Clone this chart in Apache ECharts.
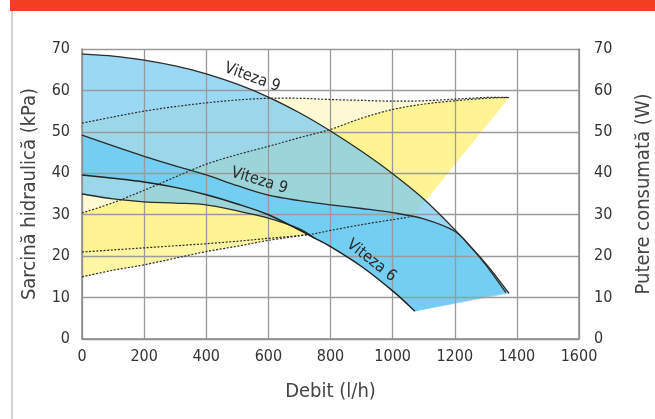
<!DOCTYPE html>
<html><head><meta charset="utf-8">
<script src="https://cdn.jsdelivr.net/npm/echarts@6/dist/echarts.min.js"></script>
<style>html,body{margin:0;padding:0;background:#fff}#c{width:655px;height:419px}</style>
</head><body><div id="c"></div>
<script>
const FONT = "'Liberation Sans Narrow','DejaVu Sans Condensed',Roboto,sans-serif";

// ---- Pressure curves (left axis, kPa) vs flow (l/h)
const v9MaxFlow = [0,100,200,300,400,500,600,700,800,900,1000,1100,1200,1300,1375];
const v9MaxHead = [68.8,68.3,67.3,65.9,64.0,61.5,58.4,54.6,50.2,45.3,39.9,33.8,26.4,18.2,11.0];

const v9LowFlow = [0,100,200,300,400,500,600,700,800,900,1000,1100,1200,1250,1300,1365];
const v9LowHead = [49.2,46.6,44.1,41.8,39.6,37.0,34.7,33.4,32.4,31.5,30.5,29.0,26.0,22.3,17.9,11.2];

const v6Flow = [0,100,200,300,400,500,600,700,750,800,900,1000,1072];
const v6Head = [39.6,38.8,37.9,36.6,34.8,32.6,30.0,26.3,24.3,22.3,17.5,11.6,6.7];

const v6MinFlow = [0,100,200,300,400,500,600,700,750];
const v6MinHead = [35.0,33.8,33.1,32.8,32.4,30.9,29.2,26.6,24.3];

// ---- Power curves (right axis, W)
const pMaxFlow = [0,100,200,300,400,500,600,700,800,900,1000,1100,1200,1300,1375];
const pMaxW    = [52.1,53.6,55.0,56.1,57.0,57.7,58.1,58.1,57.8,57.6,57.4,57.5,57.9,58.3,58.3];
const pHighFlow = [0,100,200,300,400,500,600,700,800,900,1000,1100,1200,1300,1375];
const pHighW    = [30.4,32.9,35.9,39.1,42.2,44.5,46.5,48.6,50.6,53.3,55.4,56.7,57.5,58.1,58.3];
const pMidFlow = [0,100,200,300,400,500,600,728,800,900,1000,1066];
const pMidW    = [21.0,21.5,22.0,22.5,23.0,23.6,24.3,25.2,26.2,27.6,28.8,29.6];
const pLowFlow = [0,100,200,300,400,500,600,728];
const pLowW    = [15.0,16.6,17.9,19.5,21.1,22.4,23.8,25.2];

// ---- Axis ticks
const xTicks = [0,200,400,600,800,1000,1200,1400,1600];
const yTicks = [0,10,20,30,40,50,60,70];

// ---- Curve labels
const labelText = ['Viteza 9','Viteza 9','Viteza 6'];
const labelFlow = [548, 571, 932];
const labelHead = [63.1, 38.2, 18.9];

function zip(xs, ys){ return xs.map((x,i)=>[x, ys[i]]); }
function rev(a){ return a.slice().reverse(); }

function catmull(p){
  let d='';
  for(let i=0;i<p.length-1;i++){
    const p0=p[i-1]||p[i], p1=p[i], p2=p[i+1], p3=p[i+2]||p[i+1];
    const c1x=p1[0]+(p2[0]-p0[0])/6, c1y=p1[1]+(p2[1]-p0[1])/6;
    const c2x=p2[0]-(p3[0]-p1[0])/6, c2y=p2[1]-(p3[1]-p1[1])/6;
    d+='C'+c1x+','+c1y+','+c2x+','+c2y+','+p2[0]+','+p2[1];
  }
  return d;
}
// segs: [{pts:[[x,y],...], smooth:true|false}]
function buildPath(segs, api, close){
  let d='', started=false;
  segs.forEach(s=>{
    const p = s.pts.map(v=>api.coord(v));
    if(!started){ d+='M'+p[0][0]+','+p[0][1]; started=true; }
    else d+='L'+p[0][0]+','+p[0][1];
    if(s.smooth) d+=catmull(p);
    else for(let i=1;i<p.length;i++) d+='L'+p[i][0]+','+p[i][1];
  });
  if(close) d+='Z';
  return d;
}
function region(segs, fill, z, yAxisIndex){
  return {type:'custom', silent:true, z:z, yAxisIndex:yAxisIndex||0, data:[[0,0]],
    renderItem:(params, api)=>({type:'path', shape:{pathData:buildPath(segs, api, true)},
      style:{fill:fill, stroke:null}})};
}
function curve(pts, style, z, yAxisIndex){
  return {type:'custom', silent:true, z:z, yAxisIndex:yAxisIndex||0, data:[[0,0]],
    renderItem:(params, api)=>({type:'path', shape:{pathData:buildPath([{pts:pts, smooth:true}], api, false)},
      style:Object.assign({fill:null}, style)})};
}

const v9Max = zip(v9MaxFlow, v9MaxHead);
const v9Low = zip(v9LowFlow, v9LowHead);
const v6 = zip(v6Flow, v6Head);
const v6Min = zip(v6MinFlow, v6MinHead);
const pMax = zip(pMaxFlow, pMaxW);
const pHigh = zip(pHighFlow, pHighW);
const pMid = zip(pMidFlow, pMidW);
const pLow = zip(pLowFlow, pLowW);
const v6Tail = v6.filter(p=>p[0]>=750);
const pMidTail = pMid.filter(p=>p[0]>=728);

const solid = {stroke:'#2b2b2b', lineWidth:1.3};
const dotted = {stroke:'#2b2b2b', lineWidth:1.2, lineDash:[2,1.6]};

const series = [
  region([{pts:pMax, smooth:true}, {pts:[pMax[pMax.length-1], pMid[pMid.length-1]], smooth:false}, {pts:rev(pMid), smooth:true}],
    'rgba(255,240,110,0.30)', 1, 1),
  region([{pts:pHigh, smooth:true}, {pts:[pHigh[pHigh.length-1], pMid[pMid.length-1]], smooth:false},
          {pts:rev(pMidTail), smooth:true}, {pts:rev(pLow), smooth:true}],
    'rgba(255,240,110,0.62)', 2, 1),
  region([{pts:v9Max, smooth:true}, {pts:[v9Max[v9Max.length-1], v6[v6.length-1]], smooth:false},
          {pts:rev(v6Tail), smooth:true}, {pts:rev(v6Min), smooth:true}],
    'rgba(122,203,240,0.75)', 3, 0),
  region([{pts:v9Low, smooth:true}, {pts:[v9Low[v9Low.length-1], v6[v6.length-1]], smooth:false},
          {pts:rev(v6), smooth:true}],
    '#73cef1', 4, 0),
  curve(pMax, dotted, 20, 1),
  curve(pHigh, dotted, 20, 1),
  curve(pMid, dotted, 20, 1),
  curve(pLow, dotted, 20, 1),
  curve(v9Max, solid, 21, 0),
  curve(v9Low, solid, 21, 0),
  curve(v6Min, solid, 21, 0),
  curve(v6, {stroke:'#222', lineWidth:1.5}, 21, 0),
  {type:'custom', silent:true, z:22, data:labelText.map((t,i)=>[labelFlow[i], labelHead[i], i]),
    renderItem:(params, api)=>{
      const i = api.value(2);
      const p = api.coord([api.value(0), api.value(1)]);
      const rot = [-20, -17, -38][i]*Math.PI/180;
      return {type:'text', x:p[0], y:p[1], rotation:rot,
        style:{text:labelText[i], fill:'#2a2a2a', font:'16px '+FONT, align:'center', verticalAlign:'middle'}};
    }}
];

const axisLabel = {color:'#333', fontSize:16, fontFamily:FONT};
const nameStyle = {color:'#444', fontSize:20, fontFamily:FONT};
const split = {show:true, lineStyle:{color:'#9a9a9a', width:1.3}};
const axLine = {show:true, lineStyle:{color:'#8a8a8a', width:1.5}};

const chart = echarts.init(document.getElementById('c'), null, {renderer:'canvas'});
chart.setOption({
  animation:false,
  grid:{left:82, right:76, top:49, bottom:80, containLabel:false, outerBoundsMode:'none'},
  graphic:[
    {type:'rect', shape:{x:10, y:0, width:645, height:11}, style:{fill:'#f13f22'}},
    {type:'rect', shape:{x:11, y:11, width:2, height:408}, style:{fill:'#d4d4d4'}}
  ],
  xAxis:{type:'value', min:xTicks[0], max:xTicks[xTicks.length-1], interval:xTicks[1]-xTicks[0], z:10,
    name:'Debit (l/h)', nameLocation:'middle', nameGap:43, nameTextStyle:nameStyle,
    axisLine:axLine, axisTick:{show:false}, splitLine:split,
    axisLabel:Object.assign({margin:10, formatter:v=>String(v)}, axisLabel)},
  yAxis:[
    {type:'value', min:yTicks[0], max:yTicks[yTicks.length-1], interval:yTicks[1]-yTicks[0], z:10,
      name:'Sarcină hidraulică (kPa)', nameLocation:'middle', nameGap:42, nameTextStyle:nameStyle,
      axisLine:axLine, axisTick:{show:false}, splitLine:split, axisLabel:Object.assign({margin:12}, axisLabel)},
    {type:'value', position:'right', min:yTicks[0], max:yTicks[yTicks.length-1], interval:yTicks[1]-yTicks[0], z:10,
      name:'Putere consumată (W)', nameLocation:'middle', nameGap:55, nameTextStyle:nameStyle,
      axisLine:axLine, axisTick:{show:false}, splitLine:{show:false}, axisLabel:Object.assign({margin:15}, axisLabel)}
  ],
  series:series
});
</script></body></html>
